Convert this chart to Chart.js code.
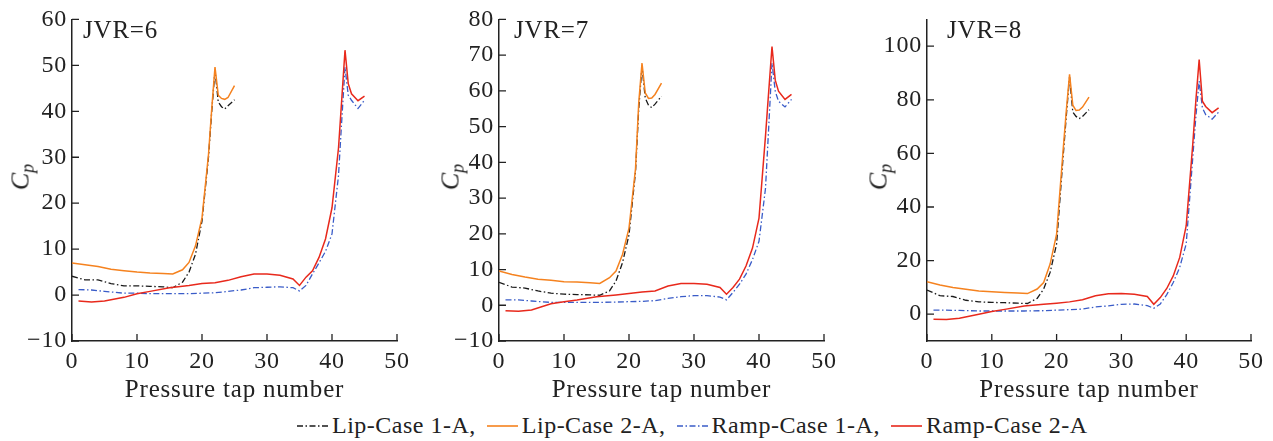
<!DOCTYPE html>
<html>
<head>
<meta charset="utf-8">
<script src="https://cdn.jsdelivr.net/npm/chart.js@4.4.0/dist/chart.umd.min.js"></script>
<style>
  body { margin: 0; background: #fff; }
  #fig { position: relative; width: 1273px; height: 441px; font-family: 'Liberation Serif', 'Times New Roman', serif; color: #222; overflow: hidden; }
  canvas { position: absolute; top: 0; }
  .cp { position: absolute; top: 177px; font-style: italic; font-size: 26px; transform: translate(-50%, -50%) rotate(-90deg); white-space: nowrap; }
  .cp sub { font-size: 18px; vertical-align: -5px; }
  #legend { position: absolute; top: 412px; left: 297px; font-size: 24px; letter-spacing: 0.5px; white-space: nowrap; display: flex; align-items: center; }
  #legend svg { margin-right: 4px; }
  #legend span { margin-right: 11px; }
</style>
</head>
<body>
<div id="fig">
  <canvas id="c6" width="420" height="405" style="left:0px"></canvas>
  <canvas id="c7" width="420" height="405" style="left:427px"></canvas>
  <canvas id="c8" width="418" height="405" style="left:855px"></canvas>
  <div class="cp" style="left:22px">C<sub>p</sub></div>
  <div class="cp" style="left:452px">C<sub>p</sub></div>
  <div class="cp" style="left:880px">C<sub>p</sub></div>
  <div id="legend"></div>
</div>
<script>
// tap positions
const lipTaps = [0, 2, 4, 6, 8, 10, 12, 14, 15.5, 17, 18, 19, 20, 21, 21.5, 22, 22.5, 23, 23.5, 24, 25];
const rampTaps = [1, 3, 5, 8, 10, 12, 15, 18, 20, 22, 24, 26, 28, 30, 32, 34, 35, 36, 37, 38, 39, 40, 41, 41.5, 42, 42.5, 43, 44, 45];

const seriesNames = ["Lip-Case 1-A,", "Lip-Case 2-A,", "Ramp-Case 1-A,", "Ramp-Case 2-A"];

// JVR = 6
const lip1_6 = [4.1, 3.3, 3.3, 2.5, 2.0, 2.0, 1.9, 1.8, 1.6, 2.8, 5.0, 8.9, 16.1, 30.0, 40.0, 48.9, 42.0, 41.0, 40.5, 41.2, 42.5];
const lip2_6 = [7.0, 6.6, 6.2, 5.6, 5.3, 5.0, 4.8, 4.7, 4.6, 5.5, 7.1, 10.7, 16.8, 30.6, 40.6, 49.6, 43.5, 42.8, 42.6, 43.0, 45.6];
const ramp1_6 = [1.2, 1.1, 0.8, 0.4, 0.4, 0.3, 0.3, 0.3, 0.4, 0.5, 0.8, 1.1, 1.6, 1.7, 1.8, 1.6, 0.9, 2.1, 4.6, 7.0, 9.5, 13.3, 26.0, 38.0, 49.6, 43.5, 42.4, 40.6, 42.4];
const ramp2_6 = [-1.3, -1.5, -1.3, -0.5, 0.3, 0.8, 1.6, 2.1, 2.5, 2.7, 3.2, 4.0, 4.6, 4.6, 4.3, 3.5, 2.1, 3.9, 5.3, 8.2, 12.2, 19.0, 32.0, 42.6, 53.3, 46.0, 43.8, 42.3, 43.3];

// JVR = 7
const lip1_7 = [6.4, 5.1, 4.8, 4.0, 3.4, 3.1, 3.0, 2.9, 2.8, 4.0, 6.8, 11.9, 19.7, 37.3, 55.0, 66.8, 58.0, 56.0, 55.3, 56.3, 58.5];
const lip2_7 = [9.6, 8.6, 7.9, 7.3, 7.0, 6.6, 6.5, 6.3, 6.1, 7.7, 9.6, 14.2, 21.6, 38.2, 56.7, 67.8, 59.4, 57.9, 58.0, 59.0, 62.2];
const ramp1_7 = [1.5, 1.5, 1.2, 0.8, 0.8, 0.8, 0.8, 0.9, 1.0, 1.1, 1.3, 1.9, 2.4, 2.7, 2.7, 2.3, 1.5, 3.6, 5.9, 8.7, 12.8, 17.9, 32.7, 50.0, 67.8, 59.9, 57.1, 55.5, 57.6];
const ramp2_7 = [-1.5, -1.7, -1.3, 0.4, 1.0, 1.5, 2.4, 2.9, 3.3, 3.7, 4.0, 5.4, 6.1, 6.1, 5.9, 5.0, 3.1, 5.0, 7.3, 11.0, 16.0, 24.4, 47.4, 60.0, 72.4, 63.0, 59.9, 57.6, 59.0];

// JVR = 8
const lip1_8 = [9.0, 6.9, 6.6, 5.2, 4.6, 4.4, 4.3, 4.1, 4.0, 5.9, 9.4, 15.6, 26.2, 58.6, 74.0, 88.5, 75.4, 73.8, 73.0, 73.8, 76.3];
const lip2_8 = [12.1, 10.9, 10.0, 9.3, 8.7, 8.4, 8.1, 7.9, 7.7, 9.4, 11.8, 18.7, 29.9, 61.0, 76.0, 89.5, 78.0, 76.0, 76.2, 77.3, 81.0];
const ramp1_8 = [1.5, 1.5, 1.4, 1.2, 1.2, 1.2, 1.2, 1.3, 1.5, 1.7, 1.9, 2.7, 3.1, 3.7, 3.8, 3.2, 2.2, 3.8, 7.3, 11.8, 17.5, 26.2, 58.0, 74.0, 87.0, 77.0, 74.5, 72.8, 75.4];
const ramp2_8 = [-1.9, -2.0, -1.5, 0.0, 1.0, 1.8, 3.1, 3.7, 4.1, 4.6, 5.4, 6.9, 7.6, 7.7, 7.4, 6.6, 3.7, 6.2, 9.6, 14.3, 21.2, 33.0, 63.0, 80.0, 95.0, 79.5, 77.5, 75.2, 77.0];

// tick labels
const xTicks = [0, 10, 20, 30, 40, 50];
const yTicks6 = [-10, 0, 10, 20, 30, 40, 50, 60];
const yTicks7 = [-10, 0, 10, 20, 30, 40, 50, 60, 70, 80];
const yTicks8 = [0, 20, 40, 60, 80, 100];

const colors = ["#1a1a1a", "#f5821f", "#3a5cc8", "#e8291c"];
const dashes = [[6, 2.5, 1.5, 2.5], [], [6, 2.5, 1.5, 2.5], []];
const axisColor = "#222";
const serif = "'Liberation Serif', 'Times New Roman', serif";

const pts = (xs, ys) => xs.map((x, i) => ({ x: x, y: ys[i] }));
const fmt = v => (v < 0 ? "\u2212" + Math.abs(v) : String(v));

// ticks pointing into the plot + the JVR label
const panelDeco = {
  id: "panelDeco",
  beforeDraw(chart) {
    chart.ctx.letterSpacing = "0.8px";
  },
  beforeDatasetsDraw(chart, args, opts) {
    const { ctx, chartArea, scales } = chart;
    ctx.save();
    ctx.strokeStyle = axisColor;
    ctx.lineWidth = 1.3;
    ctx.beginPath();
    scales.x.ticks.forEach(t => {
      const px = scales.x.getPixelForValue(t.value);
      ctx.moveTo(px, chartArea.bottom);
      ctx.lineTo(px, chartArea.bottom - 7);
    });
    scales.y.ticks.forEach(t => {
      const py = scales.y.getPixelForValue(t.value);
      ctx.moveTo(chartArea.left, py);
      ctx.lineTo(chartArea.left + 7, py);
    });
    ctx.stroke();
    ctx.fillStyle = axisColor;
    ctx.font = "25px " + serif;
    ctx.textBaseline = "alphabetic";
    ctx.textAlign = "left";
    ctx.fillText(opts.text, chartArea.left + opts.dx, 38);
    ctx.restore();
  }
};

function makePanel(id, label, dx, lip1, lip2, ramp1, ramp2, yMin, yMax, yTicks, top, right) {
  const data = [
    { d: pts(lipTaps, lip2), i: 1 },
    { d: pts(rampTaps, ramp2), i: 3 },
    { d: pts(lipTaps, lip1), i: 0 },
    { d: pts(rampTaps, ramp1), i: 2 }
  ];
  new Chart(document.getElementById(id), {
    type: "line",
    data: {
      datasets: data.map(s => ({
        label: seriesNames[s.i],
        data: s.d,
        borderColor: colors[s.i],
        borderWidth: dashes[s.i].length ? 1.3 : 1.5,
        borderDash: dashes[s.i],
        pointRadius: 0,
        tension: 0,
        fill: false
      }))
    },
    options: {
      responsive: false,
      animation: false,
      layout: { padding: { top: top, right: right, left: 0, bottom: 0 } },
      plugins: {
        legend: { display: false },
        tooltip: { enabled: false },
        panelDeco: { text: label, dx: dx }
      },
      scales: {
        x: {
          type: "linear",
          min: 0,
          max: 50,
          afterBuildTicks: s => { s.ticks = xTicks.map(v => ({ value: v })); },
          afterFit: s => { s.height = 64; },
          grid: { display: false, drawTicks: false },
          border: { display: true, color: axisColor, width: 1.5 },
          ticks: { padding: 6, color: axisColor, maxRotation: 0, font: { family: serif, size: 24 }, callback: fmt },
          title: { display: true, text: "Pressure tap number", color: axisColor, padding: 0, font: { family: serif, size: 25 } }
        },
        y: {
          type: "linear",
          min: yMin,
          max: yMax,
          afterBuildTicks: s => { s.ticks = yTicks.map(v => ({ value: v })); },
          afterFit: s => { s.width = 72; },
          grid: { display: false, drawTicks: false },
          border: { display: true, color: axisColor, width: 1.5 },
          ticks: { padding: 5, color: axisColor, font: { family: serif, size: 24 }, callback: fmt }
        }
      }
    },
    plugins: [panelDeco]
  });
}

makePanel("c6", "JVR=6", 11, lip1_6, lip2_6, ramp1_6, ramp2_6, -10, 60, yTicks6, 17, 23);
makePanel("c7", "JVR=7", 15, lip1_7, lip2_7, ramp1_7, ramp2_7, -10, 80, yTicks7, 16, 23);
makePanel("c8", "JVR=8", 20, lip1_8, lip2_8, ramp1_8, ramp2_8, -10, 110, yTicks8, 19, 22);

// legend
const legend = document.getElementById("legend");
seriesNames.forEach((name, i) => {
  const ns = "http://www.w3.org/2000/svg";
  const svg = document.createElementNS(ns, "svg");
  svg.setAttribute("width", "31");
  svg.setAttribute("height", "10");
  const ln = document.createElementNS(ns, "line");
  ln.setAttribute("x1", "0"); ln.setAttribute("y1", "5");
  ln.setAttribute("x2", "31"); ln.setAttribute("y2", "5");
  ln.setAttribute("stroke", colors[i]);
  ln.setAttribute("stroke-width", dashes[i].length ? "1.3" : "1.6");
  if (dashes[i].length) ln.setAttribute("stroke-dasharray", dashes[i].join(" "));
  svg.appendChild(ln);
  const sp = document.createElement("span");
  sp.textContent = name;
  legend.appendChild(svg);
  legend.appendChild(sp);
});
</script>
</body>
</html>
